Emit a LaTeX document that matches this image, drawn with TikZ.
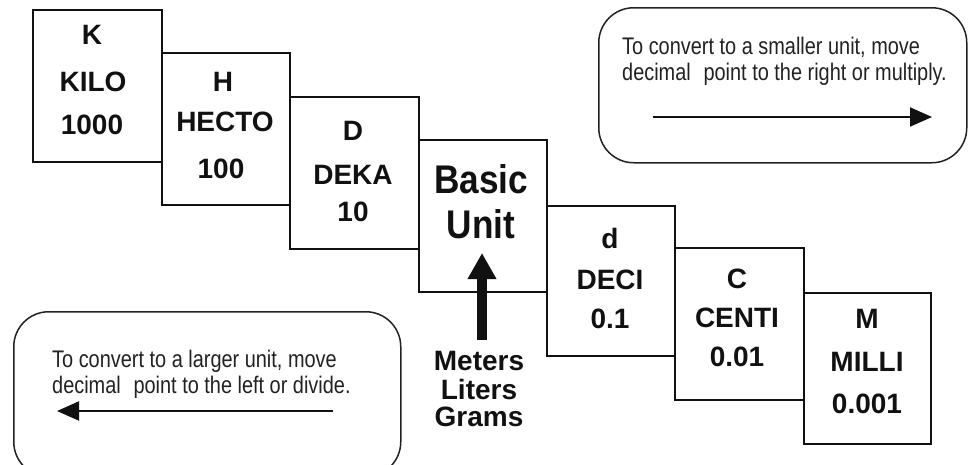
\documentclass[tikz,border=0pt]{standalone}
\usepackage{fontspec}
\setmainfont{Liberation Sans}
\newfontfamily\narrowfont[FakeStretch=0.83]{Liberation Sans}
\newfontfamily\basicfont[FakeStretch=0.88]{Liberation Sans}
\usetikzlibrary{arrows.meta}
\definecolor{ink}{HTML}{111111}
\definecolor{soft}{HTML}{222222}
\begin{document}
\begin{tikzpicture}[x=1pt,y=-1pt,
  unitbox/.style={draw=ink, line width=2pt, anchor=north west, inner sep=0pt, minimum height=152pt},
  lbl/.style={font=\fontsize{28}{28}\selectfont\bfseries, text=ink, inner sep=0pt},
  big/.style={font=\basicfont\fontsize{40}{40}\selectfont\bfseries, text=ink, inner sep=0pt},
  notebox/.style={draw=soft, line width=1.5pt, rounded corners=35pt, anchor=north west, inner sep=0pt},
  notetext/.style={font=\narrowfont\fontsize{24}{26}\selectfont, text=soft, inner sep=0pt, anchor=base west},
  thinarrow/.style={draw=ink, line width=2pt, -{Triangle[length=22pt,width=19pt]}},
  thickarrow/.style={draw=ink, line width=10pt, -{Triangle[length=26pt,width=27pt]}}
]
\useasboundingbox (0,0) rectangle (968,464);
\fill[white] (0,0) rectangle (968,464);

% staircase boxes
\node[unitbox, minimum width=129pt] (kbox) at (32,9) {};
\node[unitbox, minimum width=128pt] (hbox) at (161,52) {};
\node[unitbox, minimum width=129pt] (dbox) at (289,96) {};
\node[unitbox, minimum width=128pt] (bbox) at (418,139) {};
\node[unitbox, minimum width=128pt, minimum height=150pt] (dcbox) at (546,205) {};
\node[unitbox, minimum width=129pt] (cbox) at (674,247) {};
\node[unitbox, minimum width=127pt, minimum height=151pt] (mbox) at (803,292) {};

% labels
\node[lbl] (k1) at (92,35) {K};
\node[lbl] (k2) at (93,82) {KILO};
\node[lbl] (k3) at (92,125) {1000};
\node[lbl] (h1) at (223,82) {H};
\node[lbl] (h2) at (225,122) {HECTO};
\node[lbl] (h3) at (221,169) {100};
\node[lbl] (d1) at (353,131) {D};
\node[lbl] (d2) at (353,175) {DEKA};
\node[lbl] (d3) at (353,212) {10};
\node[big] (b1) at (481,179) {Basic};
\node[big] (b2) at (481,224) {Unit};
\node[lbl] (dc1) at (610,238) {d};
\node[lbl] (dc2) at (610,280) {DECI};
\node[lbl] (dc3) at (610,319) {0.1};
\node[lbl] (c1) at (737,279) {C};
\node[lbl] (c2) at (737,318) {CENTI};
\node[lbl] (c3) at (737,357) {0.01};
\node[lbl] (m1) at (867,319) {M};
\node[lbl] (m2) at (867,362) {MILLI};
\node[lbl] (m3) at (867,404) {0.001};

% base units and arrow
\node[lbl] (meters) at (479,361) {Meters};
\node[lbl] (liters) at (479,389) {Liters};
\node[lbl] (grams) at (479,417) {Grams};
\coordinate (mtail) at (482,340);
\coordinate (btip) at (482,253);
\draw[thickarrow] (mtail) -- (btip);

% note boxes
\node[notebox, minimum width=368pt, minimum height=155pt] (rnote) at (598,7) {};
\node[notetext] (rt1) at (622,54) {To convert to a smaller unit, move};
\node[notetext] (rt2) at (622,80) {decimal\hspace{0.3em} point to the right or multiply.};
\coordinate (rtail) at (653,117);
\coordinate (rtip) at (932,117);
\draw[thinarrow] (rtail) -- (rtip);

\node[notebox, minimum width=387pt, minimum height=165pt] (lnote) at (13,311) {};
\node[notetext] (lt1) at (52,367) {To convert to a larger unit, move};
\node[notetext] (lt2) at (52,393) {decimal\hspace{0.3em} point to the left or divide.};
\coordinate (ltail) at (333,411);
\coordinate (ltip) at (57,411);
\draw[thinarrow] (ltail) -- (ltip);
\end{tikzpicture}
\end{document}
